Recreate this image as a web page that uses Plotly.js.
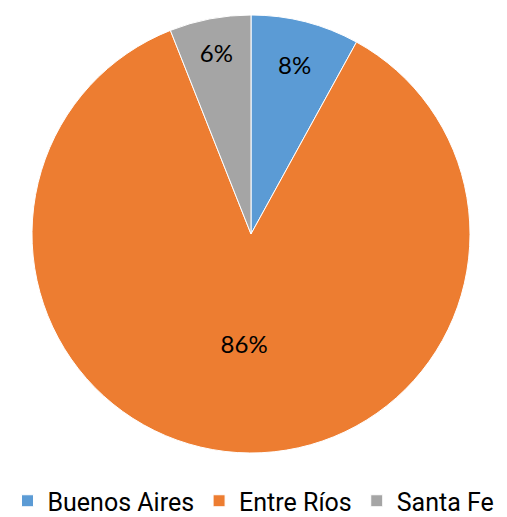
<!DOCTYPE html>
<html>
<head>
<meta charset="utf-8">
<script src="https://cdn.plot.ly/plotly-3.0.1.min.js"></script>
<style>html,body{margin:0;padding:0;background:#fff;}#chart{width:507px;height:517px;}</style>
</head>
<body>
<div id="chart"></div>
<script>
const categories = ["Buenos Aires", "Entre Ríos", "Santa Fe"];
const values = [8, 86, 6];
const colors = ["#5B9BD5", "#ED7D31", "#A5A5A5"];

const W = 507, H = 517;
const pieTop = 15, pieBottom = 453, pieLeft = 32, pieRight = 470;

const trace = {
  type: "pie",
  labels: categories,
  values: values,
  sort: false,
  direction: "clockwise",
  rotation: 0,
  marker: { colors: colors, line: { color: "#ffffff", width: 1 } },
  textinfo: "percent",
  texttemplate: "%{percent:.0%}",
  textposition: "inside",
  insidetextorientation: "horizontal",
  textfont: { family: "Lato, 'Open Sans', sans-serif", size: 24, color: "#000000" },
  hoverinfo: "none",
  domain: { x: [pieLeft/W, pieRight/W], y: [1 - pieBottom/H, 1 - pieTop/H] }
};

const layout = {
  width: W,
  height: H,
  margin: { l: 0, r: 0, t: 0, b: 0 },
  paper_bgcolor: "#ffffff",
  showlegend: true,
  legend: {
    orientation: "h",
    x: 0.5, xanchor: "center", xref: "container",
    y: 16/H, yanchor: "middle", yref: "container",
    font: { family: "Roboto, sans-serif", size: 25, color: "#000000" },
    itemwidth: 30,
    traceorder: "normal"
  }
};

const gd = document.getElementById("chart");
Plotly.newPlot(gd, [trace], layout, { staticPlot: true }).then(function () {
  const s = gd._fullLayout._size;
  const y0 = (H - pieBottom - s.b) / s.h;
  const y1 = (H - pieTop - s.b) / s.h;
  const x0 = (pieLeft - s.l) / s.w;
  const x1 = (pieRight - s.l) / s.w;
  return Plotly.restyle(gd, { "domain.y": [[y0, y1]], "domain.x": [[x0, x1]] });
});
</script>
</body>
</html>
